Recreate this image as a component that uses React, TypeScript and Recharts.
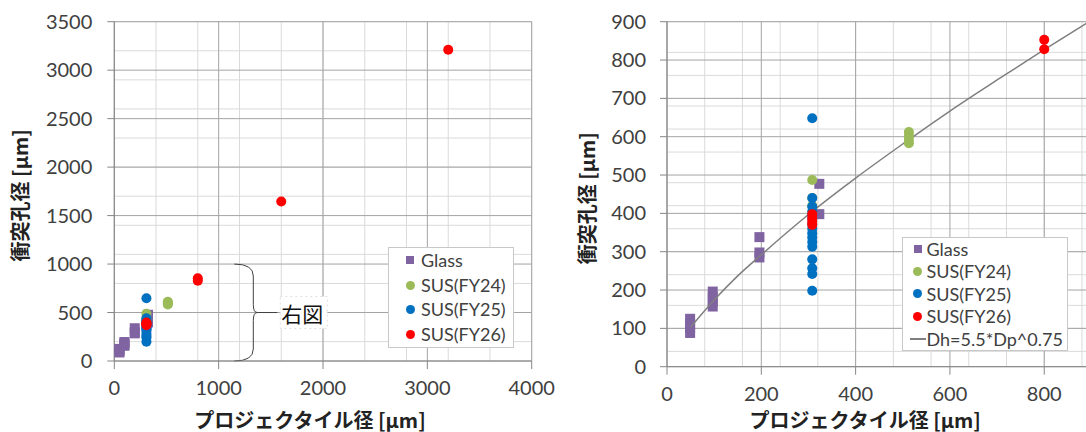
import {
  CartesianGrid,
  Label,
  Legend,
  ReferenceLine,
  Scatter,
  ScatterChart,
  XAxis,
  YAxis,
} from 'recharts';

type Pt = [number, number];

// impact data: [projectile diameter, hole diameter] in µm
const glassPts: Pt[] = [
  [49, 88], [49, 100], [49, 112], [49, 125],
  [97, 157], [97, 170], [97, 183], [97, 196],
  [196, 285], [196, 298], [196, 338],
  [323, 398], [323, 477],
];
const fy24Pts: Pt[] = [
  [308, 420], [308, 440], [308, 487],
  [513, 583], [513, 592], [513, 602], [513, 612],
];
const fy25Pts: Pt[] = [
  [308, 198], [308, 242], [308, 257], [308, 280], [308, 313], [308, 325],
  [308, 337], [308, 348], [308, 360], [308, 372], [308, 385], [308, 395],
  [308, 405], [308, 418], [308, 440], [308, 648],
];
const fy26Pts: Pt[] = [
  [308, 370], [308, 378], [308, 388], [308, 398],
  [800, 828], [800, 853], [1600, 1645], [3200, 3210],
];
// Dh=5.5*Dp^0.75 curve, points
const fitPts: Pt[] = [
  [50, 103], [100, 174], [150, 237], [200, 292], [300, 397], [400, 492],
  [500, 581], [600, 667], [700, 748], [800, 827], [890, 896],
];

const leftXTicks = [0, 1000, 2000, 3000, 4000];
const leftYTicks = [0, 500, 1000, 1500, 2000, 2500, 3000, 3500];
const rightXTicks = [0, 200, 400, 600, 800];
const rightYTicks = [0, 100, 200, 300, 400, 500, 600, 700, 800, 900];

const X_TITLE = 'プロジェクタイル径 [μm]';
const Y_TITLE = '衝突孔径 [μm]';
const FIT_NAME = 'Dh=5.5*Dp^0.75';

const series = [
  { name: 'Glass', pts: glassPts, color: '#8064A2', square: true },
  { name: 'SUS(FY24)', pts: fy24Pts, color: '#9BBB59', square: false },
  { name: 'SUS(FY25)', pts: fy25Pts, color: '#0070C0', square: false },
  { name: 'SUS(FY26)', pts: fy26Pts, color: '#FF0000', square: false },
];

const steps = (max: number, step: number) => {
  const out: number[] = [];
  for (let v = 0; v <= max; v += step) out.push(v);
  return out;
};

const toRows = (pts: Pt[], maxX = Infinity) =>
  pts.filter((p) => p[0] <= maxX).map(([x, y]) => ({ x, y }));

const TICK = { fill: '#404040', fontSize: 20, fontFamily: 'Lato, sans-serif' };
const AXIS = '#868686';
const CJK = '"Noto Sans CJK JP", sans-serif';

const Square = (p: any) => (
  <rect x={p.cx - 5} y={p.cy - 5} width={10} height={10} fill={p.fill} />
);
const Dot = (p: any) => <circle cx={p.cx} cy={p.cy} r={5} fill={p.fill} />;

function Brace(p: any) {
  const x = p.x1;
  const top = Math.min(p.y1, p.y2);
  const bot = Math.max(p.y1, p.y2);
  const mid = (top + bot) / 2;
  const w = 19;
  const d =
    `M${x},${top} Q${x + w},${top} ${x + w},${top + 12} L${x + w},${mid - 8} ` +
    `Q${x + w},${mid} ${x + w + 4},${mid} Q${x + w},${mid} ${x + w},${mid + 8} ` +
    `L${x + w},${bot - 12} Q${x + w},${bot} ${x},${bot}`;
  return (
    <g>
      <path d={d} fill="none" stroke="#404040" strokeWidth={1} />
      <line x1={x + w + 4} y1={mid} x2={x + w + 24} y2={mid} stroke="#404040" />
      <rect x={x + w + 27} y={mid - 16} width={47} height={32} fill="#fff" stroke="#e0e0e0" strokeDasharray="2 3" />
      <text x={x + w + 28} y={mid} dominantBaseline="central" fontSize={21} fontFamily={CJK} fill="#111">
        右図
      </text>
    </g>
  );
}

const yTitle = (cx: number) => (props: any) => {
  const vb = props.viewBox;
  const cy = vb.y + vb.height / 2 + 4;
  return (
    <text
      x={cx}
      y={cy}
      transform={`rotate(-90 ${cx} ${cy})`}
      textAnchor="middle"
      dominantBaseline="central"
      fontSize={20}
      fontWeight={700}
      fontFamily={CJK}
      fill="#222"
    >
      {Y_TITLE}
    </text>
  );
};

const xTitle = (dx: number, dy: number) => (props: any) => {
  const vb = props.viewBox;
  return (
    <text
      x={vb.x + vb.width / 2 + dx}
      y={vb.y + dy}
      textAnchor="middle"
      dominantBaseline="central"
      fontSize={20}
      fontWeight={700}
      fontFamily={CJK}
      fill="#222"
    >
      {X_TITLE}
    </text>
  );
};

function LegendBox({ rowH, markX, textX, fit }: { rowH: number; markX: number; textX: number; fit: boolean }) {
  const rows = series.map((s) => ({ name: s.name, color: s.color, kind: s.square ? 'sq' : 'dot' }));
  if (fit) rows.push({ name: FIT_NAME, color: '#7f7f7f', kind: 'line' });
  return (
    <div
      style={{
        border: '1px solid #c8c8c8',
        background: '#fff',
        boxSizing: 'border-box',
        fontFamily: 'Lato, sans-serif',
        fontSize: 18,
        color: '#404040',
      }}
    >
      {rows.map((r) => (
        <div key={r.name} style={{ position: 'relative', height: rowH, lineHeight: `${rowH}px` }}>
          {r.kind === 'sq' && (
            <span style={{ position: 'absolute', left: markX - 4, top: rowH / 2 - 4, width: 8, height: 8, background: r.color }} />
          )}
          {r.kind === 'dot' && (
            <span style={{ position: 'absolute', left: markX - 4.5, top: rowH / 2 - 4.5, width: 9, height: 9, borderRadius: '50%', background: r.color }} />
          )}
          {r.kind === 'line' && (
            <span style={{ position: 'absolute', left: markX - 8, top: rowH / 2 - 0.75, width: 16, height: 1.5, background: r.color }} />
          )}
          <span style={{ position: 'absolute', left: textX, whiteSpace: 'nowrap' }}>{r.name}</span>
        </div>
      ))}
    </div>
  );
}

export default function App() {
  return (
    <div style={{ position: 'fixed', left: 0, top: 0, width: 1086, height: 432, overflow: 'hidden', background: '#fff' }}>
      {/* full range */}
      <div style={{ position: 'absolute', left: 0, top: 0 }}>
        <ScatterChart width={560} height={432} margin={{ top: 21.7, right: 28.3, bottom: 0, left: 0 }}>
          <CartesianGrid stroke="#dadada" verticalValues={steps(4000, 200)} horizontalValues={steps(3500, 100)} />
          <CartesianGrid stroke="#a3a3a3" />
          <XAxis
            dataKey="x"
            type="number"
            domain={[0, 4000]}
            ticks={leftXTicks}
            height={71}
            tick={TICK}
            tickSize={8}
            tickMargin={12}
            stroke={AXIS}
          >
            <Label content={xTitle(-13, 58)} />
          </XAxis>
          <YAxis
            dataKey="y"
            type="number"
            domain={[0, 3500]}
            ticks={leftYTicks}
            width={114.3}
            tick={TICK}
            tickSize={7}
            tickMargin={15}
            stroke={AXIS}
          >
            <Label content={yTitle(20)} />
          </YAxis>
          {series.map((s) => (
            <Scatter
              key={s.name}
              name={s.name}
              data={toRows(s.pts)}
              fill={s.color}
              shape={s.square ? Square : Dot}
              isAnimationActive={false}
            />
          ))}
          <ReferenceLine segment={[{ x: 1150, y: 1000 }, { x: 1150, y: 0 }]} shape={Brace} ifOverflow="visible" />
          <Legend
            layout="vertical"
            align="center"
            verticalAlign="middle"
            wrapperStyle={{ left: 388, top: 247, width: 126 }}
            content={() => <LegendBox rowH={24.7} markX={21} textX={32} fit={false} />}
          />
        </ScatterChart>
      </div>

      {/* zoomed range with fit curve */}
      <div style={{ position: 'absolute', left: 545, top: 0 }}>
        <ScatterChart width={560} height={432} margin={{ top: 21.7, right: 13.6, bottom: 0, left: 0 }}>
          <CartesianGrid stroke="#dadada" verticalValues={steps(900, 40)} horizontalValues={steps(900, 20)} />
          <CartesianGrid stroke="#a3a3a3" />
          <XAxis
            dataKey="x"
            type="number"
            domain={[0, 900]}
            ticks={rightXTicks}
            height={65.3}
            tick={TICK}
            tickSize={8}
            tickMargin={12}
            stroke={AXIS}
          >
            <Label content={xTitle(-14, 52.3)} />
          </XAxis>
          <YAxis
            dataKey="y"
            type="number"
            domain={[0, 900]}
            allowDataOverflow
            ticks={rightYTicks}
            width={122}
            tick={TICK}
            tickSize={7}
            tickMargin={14}
            stroke={AXIS}
          >
            <Label content={yTitle(42)} />
          </YAxis>
          <Scatter
            key="glass"
            name="Glass"
            data={toRows(glassPts, 900)}
            fill={series[0].color}
            shape={Square}
            isAnimationActive={false}
          />
          <Scatter
            name={FIT_NAME}
            data={toRows(fitPts)}
            line={{ stroke: '#7f7f7f', strokeWidth: 1.5 }}
            lineType="joint"
            lineJointType="monotoneX"
            shape={() => <g />}
            isAnimationActive={false}
          />
          {series.slice(1).map((s) => (
            <Scatter
              key={s.name}
              name={s.name}
              data={toRows(s.pts, 900)}
              fill={s.color}
              shape={Dot}
              isAnimationActive={false}
            />
          ))}
          <Legend
            layout="vertical"
            align="center"
            verticalAlign="middle"
            wrapperStyle={{ left: 356.5, top: 236.7, width: 166 }}
            content={() => <LegendBox rowH={22.5} markX={15} textX={24} fit />}
          />
        </ScatterChart>
      </div>
    </div>
  );
}
